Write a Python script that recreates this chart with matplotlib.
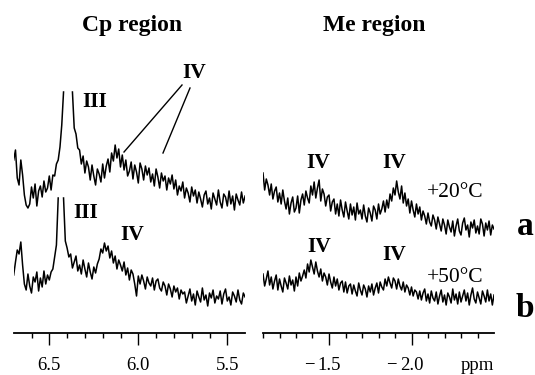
import numpy as np
import matplotlib
matplotlib.use('Agg')
import matplotlib.pyplot as plt
from matplotlib.ticker import FixedLocator
from matplotlib.transforms import blended_transform_factory, ScaledTranslation

nan = np.nan

# chemical shift grids (ppm), one point every 0.01 ppm
cp_ppm = np.linspace(6.70, 5.40, 131)
me_ppm = np.linspace(-1.10, -2.50, 141)

# intensities (arbitrary units, baseline = 0)
# the big peak III is cut off in the original, hence the nan gap
cp_a = [40, 50, 22, 15, 40, 25, 5, -5, -8,
        -4, 13, 2, 16, -6, 9, 14,
        3, 19, 8, 12, 24, 10, 25,
        24, 36, 40, 53, 75, 108,
        nan, nan, nan, nan,
        108, 72, 66, 52, 50, 36,
        44, 27, 39, 33, 20, 35, 24,
        15, 31, 26, 18, 36, 22, 34,
        41, 28, 47, 39, 55, 42,
        51, 33, 45, 30,
        40, 24, 29, 38, 21, 35, 28, 17, 37, 31, 20, 34, 25,
        32, 18, 26, 14, 31, 23, 12, 27, 19, 24, 10, 22, 16, 25, 11,
        20, 5, 14, 9, 18, 2, 12, 7, -2, 13, 4, 10, -3, 8, 1,
        -7, 5, 9, -4, 2, -9, 7, 1, -5, 10, -2, -8, 6, 3, -6, 9, -4, 4, -10, 6,
        0, -5, 8, -3, 4]

cp_b = [23, 36, 48, 44, 56, 33, 14,
        8, 24, 12, 5, 21, 16, 26, 7,
        20, 11, 27, 14, 23, 18,
        26, 29, 41, 53, 100,
        nan, nan,
        100, 57, 50, 41,
        44, 30, 36, 42, 27, 33, 24, 38, 29, 21, 35, 26, 19, 31,
        25, 34, 39, 49, 45, 55, 47, 52,
        40, 47, 35, 42, 29, 38, 33,
        27, 36, 23, 30, 18, 28, 24, 14, 2, 22,
        14, 23, 17, 9, 21, 15, 12, 20, 8, 17,
        19, 10, 7, 16, 12, 3, 14, 9, 1, 12, 6, 10, -1, 8, 4,
        6, -5, 2, 9, -3, 4, -7, 7, 1, -4, 10, -2, 3, -8, 5, 0, 8, -5, 2, -1,
        7, -6, 4, 9, -3, 1, -7, 6, 2, -4, 8, -2, -6, 5, 1]

me_a = [55, 38, 49, 43, 33, 44, 29, 37, 41, 26,
        35, 24, 38, 27, 19, 30, 14, 25, 31, 16,
        20, 32, 15, 28, 34, 23, 37, 30, 25, 42,
        33, 46, 30, 40, 48, 27, 39, 34, 22, 31,
        33, 17, 26, 29, 14, 24, 12, 28, 18, 11,
        26, 17, 9, 24, 13, 21, 8, 25, 14, 18,
        9, 23, 12, 6, 20, 15, 7, 22, 18, 9,
        24, 14, 19, 27, 16, 28, 20, 34, 27, 40,
        33, 47, 36, 29, 42, 25, 35, 22, 29, 15,
        27, 18, 11, 24, 14, 21, 8, 17, 12, 4,
        15, 6, 2, 13, 8, -1, 11, 4, -3, 9,
        3, -6, 8, 1, -4, 7, -8, 2, 9, -3,
        -7, 5, 10, -2, 3, -9, 6, 0, 8, -5,
        2, -6, 9, 4, -8, 5, -2, 7, -7, 3,
        -1]

me_b = [24, 12, 19, 27, 13, 21, 9, 17, 23, 8,
        19, 12, 6, 20, 15, 9, 22, 13, 18, 7,
        21, 12, 25, 17, 22, 28, 20, 34, 26, 38,
        31, 24, 36, 27, 21, 29, 17, 25, 21, 13,
        24, 16, 10, 21, 12, 19, 8, 15, 17, 6,
        16, 5, 12, 14, 4, 13, 7, 2, 15, 8,
        3, 13, 9, 1, 12, 6, 14, 3, 10, 15,
        5, 16, 11, 8, 19, 12, 21, 15, 10, 20,
        17, 9, 19, 12, 8, 16, 6, 13, 10, 3,
        11, 2, 8, 6, -1, 7, -2, 5, 9, -3,
        4, -5, 7, 0, -3, 6, -6, 2, 8, -4,
        3, -7, 5, 1, -5, 9, -2, 4, -6, 6,
        -4, 2, 8, -3, 5, -7, 3, 10, -1, -5,
        6, 0, -6, 7, 2, -4, 8, -3, 4, -7,
        3]

cp_major = [6.5, 6.0, 5.5]
cp_minor = [6.6, 6.4, 6.3, 6.2, 6.1, 5.9, 5.8, 5.7, 5.6]
me_major = [-1.5, -2.0]
me_minor = [-1.1, -1.2, -1.3, -1.4, -1.6, -1.7, -1.8, -1.9, -2.1, -2.2, -2.3, -2.4]

serif = 'Liberation Serif'
W, H = 535, 375

fig = plt.figure(figsize=(W / 100, H / 100), dpi=100)


def px(x, y):
    # pixel position (from top-left) -> figure fraction
    return x / W, 1 - y / H


def label(x, y, s, size=15.5, weight='bold', ha='center'):
    fig.text(*px(x, y), s, fontsize=size, fontweight=weight, family=serif,
             ha=ha, va='baseline')


def make_axes(x0, x1, lims, major, minor):
    ax = fig.add_axes([x0 / W, (H - 333) / H, (x1 - x0) / W, 293 / H])
    ax.set_xlim(*lims)
    ax.set_ylim(0, 293)
    for s in ['left', 'right', 'top']:
        ax.spines[s].set_visible(False)
    ax.spines['bottom'].set_linewidth(1.3)
    ax.set_yticks([])
    ax.xaxis.set_major_locator(FixedLocator(major))
    ax.xaxis.set_minor_locator(FixedLocator(minor))
    ax.tick_params(axis='x', which='major', direction='out', length=8.6,
                   width=1.0, labelbottom=False)
    ax.tick_params(axis='x', which='minor', direction='out', length=3.8,
                   width=1.0)
    ax.patch.set_visible(False)
    return ax


ax1 = make_axes(13.7, 245.1, (6.70, 5.40), cp_major, cp_minor)
ax2 = make_axes(263, 494, (-1.10, -2.50), me_major, me_minor)

ax1.plot(cp_ppm, 133 + np.array(cp_a), color='black', lw=1.1)
ax1.plot(cp_ppm, 35 + np.array(cp_b), color='black', lw=1.1)
ax2.plot(me_ppm, 105 + np.array(me_a), color='black', lw=1.1)
ax2.plot(me_ppm, 35 + np.array(me_b), color='black', lw=1.1)

# tick labels, digits centred on the ticks
base = 1 - 370 / H
for ax, vals in [(ax1, cp_major), (ax2, me_major)]:
    tr = blended_transform_factory(ax.transData, fig.transFigure)
    for v in vals:
        ax.text(v, base, '%.1f' % abs(v), transform=tr, ha='center',
                va='baseline', fontsize=13.5, family=serif)
        if v < 0:
            off = ScaledTranslation(-20 / 100, 0, fig.dpi_scale_trans)
            ax.text(v, base, '\u2212', transform=tr + off,
                    ha='center', va='baseline', fontsize=13.5, family=serif)

label(477, 370, 'ppm', size=13.5, weight='normal')

# titles
label(132.5, 31.5, 'Cp region', size=17)
label(374, 31.5, 'Me region', size=17)

# peak labels
label(94.5, 107, 'III')
label(194, 78, 'IV')
fig.add_artist(plt.Line2D([182 / W, 124 / W], [1 - 85 / H, 1 - 152 / H],
                          color='black', lw=1.0))
fig.add_artist(plt.Line2D([190 / W, 163 / W], [1 - 88 / H, 1 - 153 / H],
                          color='black', lw=1.0))
label(85.5, 218, 'III')
label(132, 240, 'IV')
label(318.5, 168, 'IV')
label(394, 168, 'IV')
label(319, 252, 'IV')
label(394.5, 260, 'IV')

label(455.5, 197, '+20\u00b0C', weight='normal')
label(455.5, 282, '+50\u00b0C', weight='normal')

label(525, 235, 'a', size=24)
label(525, 317, 'b', size=24)

plt.savefig('out.png', dpi=100)
